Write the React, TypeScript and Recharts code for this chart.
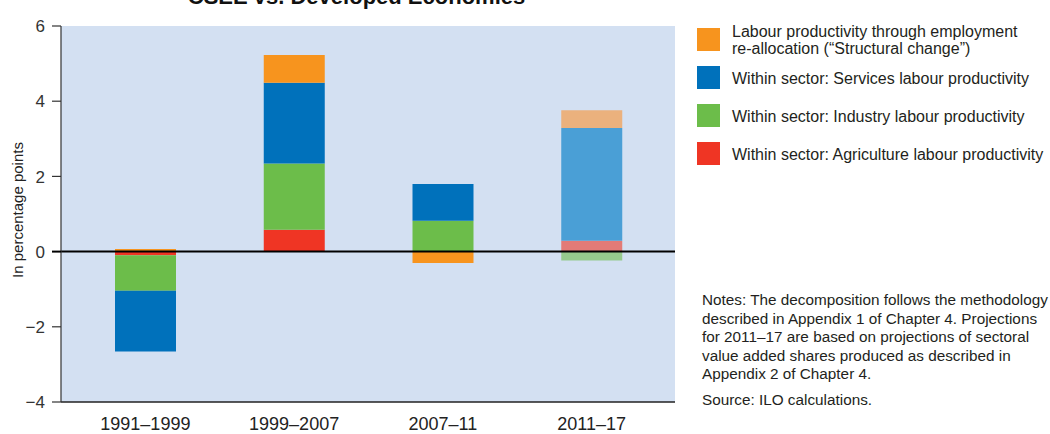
import React from 'react';
import { BarChart, Bar, XAxis, YAxis, CartesianGrid, ReferenceLine, Cell } from 'recharts';

const periods = ['1991–1999', '1999–2007', '2007–11', '2011–17'];
const agriculture = [-0.1, 0.58, 0.0, 0.29];
const industry = [-0.94, 1.76, 0.82, -0.24];
const services = [-1.62, 2.15, 0.98, 3.0];
const structural = [0.07, 0.74, -0.3, 0.47];
const projected = [false, false, false, true];
const yTicks = [-4, -2, 0, 2, 4, 6];

const titleText = 'CSEE vs. Developed Economies';
const yLabel = 'In percentage points';

const series = [
  { key: 'agriculture', name: 'Within sector: Agriculture labour productivity', color: '#ef3524', light: '#e37b77' },
  { key: 'industry', name: 'Within sector: Industry labour productivity', color: '#6cbd4a', light: '#96ca8d' },
  { key: 'services', name: 'Within sector: Services labour productivity', color: '#0071bb', light: '#4a9fd6' },
  { key: 'structural', name: 'Labour productivity through employment re-allocation (“Structural change”)', color: '#f7941e', light: '#ebb17d' },
];

const legendLines = [
  { color: '#f7941e', lines: ['Labour productivity through employment', 're-allocation (“Structural change”)'] },
  { color: '#0071bb', lines: ['Within sector: Services labour productivity'] },
  { color: '#6cbd4a', lines: ['Within sector: Industry labour productivity'] },
  { color: '#ef3524', lines: ['Within sector: Agriculture labour productivity'] },
];

const notesLines = [
  'Notes: The decomposition follows the methodology',
  'described in Appendix 1 of Chapter 4. Projections',
  'for 2011–17 are based on projections of sectoral',
  'value added shares produced as described in',
  'Appendix 2 of Chapter 4.',
];
const sourceLine = 'Source: ILO calculations.';

const data = periods.map((p, i) => ({
  period: p,
  agriculture: agriculture[i],
  industry: industry[i],
  services: services[i],
  structural: structural[i],
}));

const FONT = '"Liberation Sans", Arial, sans-serif';

const YTick = (props: any) => {
  const { x, y, payload } = props;
  const v = payload.value as number;
  const label = v < 0 ? '−' + Math.abs(v) : String(v);
  const axisX = x + 16;
  return (
    <g>
      <line x1={axisX - 9} x2={axisX} y1={y} y2={y} stroke={v === 0 ? '#000' : '#333'} strokeWidth={v === 0 ? 2 : 1.2} />
      <text x={x} y={y} dy="0.36em" textAnchor="end" fontSize={17} fill="#333" fontFamily={FONT}>
        {label}
      </text>
    </g>
  );
};

export default function App() {
  const legendTops = [24, 71, 109, 147];
  const squareTops = [28, 66, 104, 142];
  return (
    <div style={{ position: 'absolute', left: 0, top: 0, width: 1050, height: 434, fontFamily: FONT, color: '#231f20', background: '#fff' }}>
      <BarChart
        width={1050}
        height={434}
        data={data}
        stackOffset="sign"
        margin={{ top: 26, right: 375, bottom: 0, left: 0 }}
        barCategoryGap={0}
      >
        <CartesianGrid horizontal={false} vertical={false} fill="#d3e0f2" stroke="none" />
        <XAxis
          dataKey="period"
          height={32}
          padding={{ left: 10, right: 9 }}
          tickLine={false}
          tickMargin={9}
          axisLine={{ stroke: '#222', strokeWidth: 1.5 }}
          tick={{ fontSize: 18, fill: '#222', fontFamily: FONT }}
          interval={0}
        />
        <YAxis
          width={61}
          domain={[-4, 6]}
          ticks={yTicks}
          interval={0}
          tickLine={false}
          tickSize={9}
          tickMargin={7}
          axisLine={{ stroke: '#333', strokeWidth: 1.2 }}
          tick={<YTick />}
        />
        {series.map((s) => (
          <Bar key={s.key} dataKey={s.key} name={s.name} stackId="a" barSize={61} isAnimationActive={false}>
            {data.map((d, i) => (
              <Cell key={i} fill={projected[i] ? s.light : s.color} />
            ))}
          </Bar>
        ))}
        <ReferenceLine y={0} stroke="#000" strokeWidth={2} />
      </BarChart>

      <svg width={1050} height={434} style={{ position: 'absolute', left: 0, top: 0, pointerEvents: 'none' }}>
        <text x={356.5} y={4} textAnchor="middle" fontSize={22} fontWeight="bold" fill="#111" fontFamily={FONT}>
          {titleText}
        </text>
        <text
          x={0}
          y={0}
          transform="translate(23,210) rotate(-90)"
          textAnchor="middle"
          fontSize={15}
          fill="#222"
          fontFamily={FONT}
        >
          {yLabel}
        </text>
      </svg>

      {legendLines.map((item, i) => (
        <React.Fragment key={i}>
          <div style={{ position: 'absolute', left: 697, top: squareTops[i], width: 23, height: 23, background: item.color }} />
          <div style={{ position: 'absolute', left: 732, top: legendTops[i], fontSize: 16, lineHeight: '16.7px', whiteSpace: 'nowrap' }}>
            {item.lines.map((l, j) => (
              <div key={j}>{l}</div>
            ))}
          </div>
        </React.Fragment>
      ))}

      <div style={{ position: 'absolute', left: 702, top: 291, fontSize: 15.3, lineHeight: '18.6px', whiteSpace: 'nowrap' }}>
        {notesLines.map((l, j) => (
          <div key={j}>{l}</div>
        ))}
        <div style={{ marginTop: 7 }}>{sourceLine}</div>
      </div>
    </div>
  );
}
